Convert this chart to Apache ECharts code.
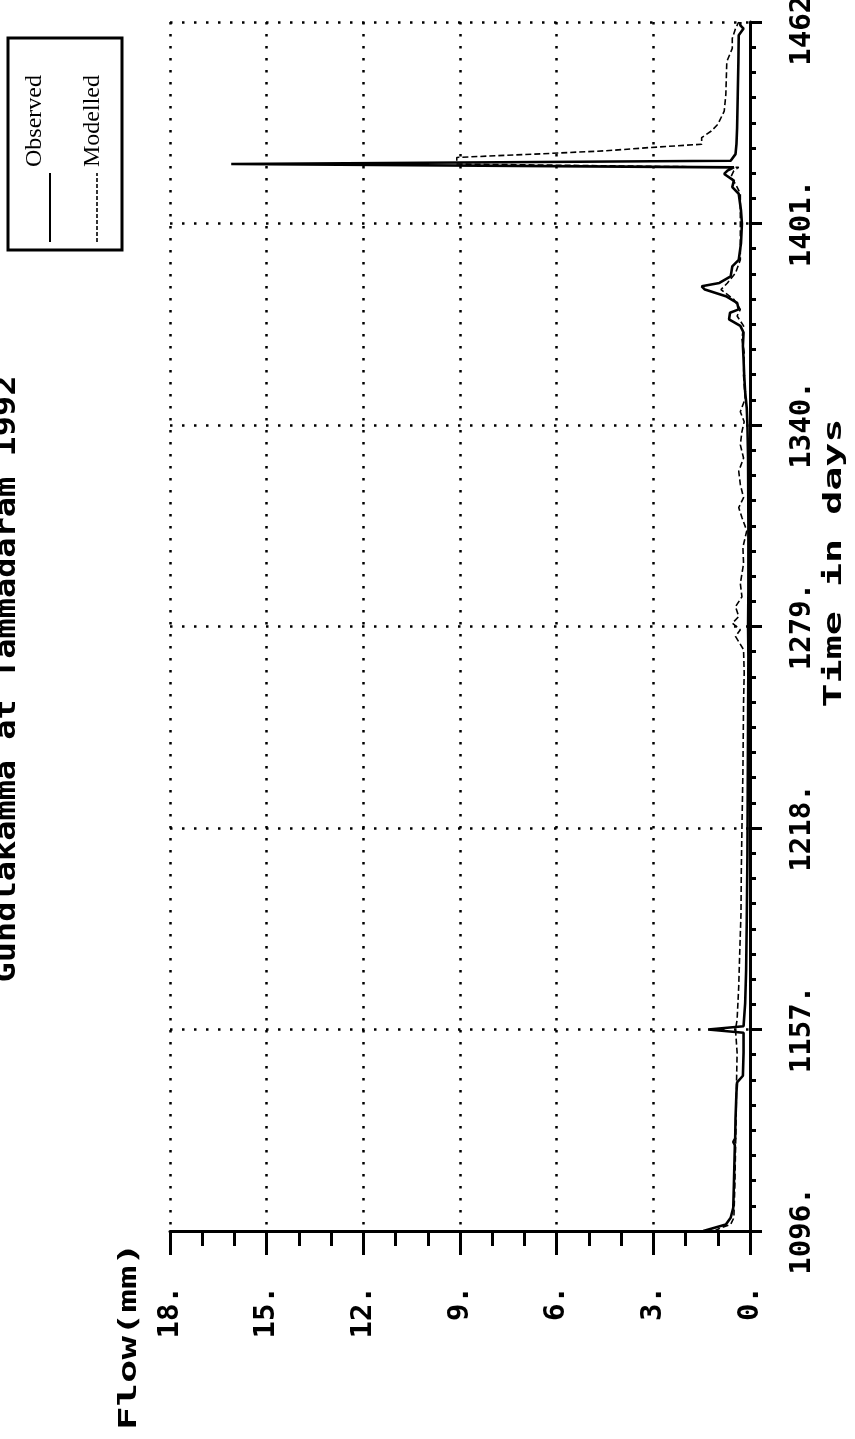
<!DOCTYPE html>
<html>
<head>
<meta charset="utf-8">
<script src="https://cdn.jsdelivr.net/npm/echarts@6/dist/echarts.min.js"></script>
<style>
  html, body { margin: 0; padding: 0; background: #fff; overflow: hidden; }
  #chart { width: 855px; height: 1439px; }
</style>
</head>
<body>
<div id="chart"></div>
<script>
// Daily flow, Gundlakamma at Tammadaram, 1992 (days counted from the series start)
const DAY0 = 1096;
const dayTicks = [1096, 1157, 1218, 1279, 1340, 1401, 1462];
const flowTicks = [0, 3, 6, 9, 12, 15, 18];

const observedDay = [1096,1097,1098,1100,1103,1110,1118,1122,1123,1124,1130,1138,1141,1143,1150,1156,1157,1158,1165,1175,1190,1210,1230,1250,1270,1279,1290,1310,1330,1340,1345,1350,1355,1360,1364,1368,1370,1372,1374,1375,1377,1379,1381,1382,1383,1385,1388,1390,1395,1401,1405,1410,1412,1414,1416,1417,1418,1419,1420,1422,1425,1430,1440,1450,1458,1460,1461,1462];
const observedFlow = [1.45,1.1,0.75,0.6,0.52,0.5,0.48,0.47,0.52,0.46,0.45,0.42,0.4,0.22,0.2,0.2,1.3,0.2,0.15,0.12,0.1,0.08,0.07,0.06,0.05,0.06,0.05,0.05,0.06,0.08,0.1,0.15,0.18,0.2,0.22,0.2,0.3,0.65,0.62,0.35,0.4,0.75,1.4,1.5,0.95,0.6,0.55,0.35,0.28,0.25,0.28,0.35,0.55,0.5,0.8,0.7,0.5,16.1,0.6,0.45,0.42,0.4,0.38,0.36,0.35,0.2,0.3,0.3];

const modelledDay = [1096,1097,1098,1100,1110,1120,1130,1140,1150,1157,1160,1170,1180,1192,1205,1218,1235,1256,1265,1272,1276,1278,1280,1282,1285,1288,1292,1298,1303,1308,1312,1315,1318,1322,1326,1330,1334,1338,1341,1344,1348,1355,1362,1366,1370,1373,1375,1378,1381,1383,1386,1390,1395,1401,1405,1410,1413,1415,1417,1418,1419,1420,1421,1422,1423,1424,1425,1427,1429,1431,1435,1440,1450,1454,1457,1460,1462];
const modelledFlow = [1.1,0.9,0.6,0.5,0.47,0.45,0.43,0.42,0.4,0.45,0.4,0.35,0.32,0.28,0.27,0.25,0.22,0.2,0.18,0.2,0.45,0.3,0.55,0.35,0.45,0.25,0.3,0.2,0.22,0.1,0.25,0.35,0.2,0.3,0.35,0.2,0.3,0.25,0.18,0.3,0.15,0.2,0.18,0.25,0.2,0.4,0.3,0.5,0.9,0.7,0.45,0.3,0.3,0.3,0.3,0.3,0.45,0.6,0.5,0.35,9.1,9.1,9.1,6.7,4.5,3.1,1.5,1.5,1.2,1.0,0.8,0.75,0.72,0.55,0.55,0.45,0.35];

const chartTitle = 'Gundlakamma at Tammadaram 1992';
const seriesNames = ['Observed', 'Modelled'];
const axisTitles = { flow: 'Flow(mm)', time: 'Time in days' };

// The plot is drawn turned a quarter turn: flow runs right-to-left, time runs upward.
const toPairs = (days, flows) => days.map((d, i) => [flows[i], d - DAY0]);

const MONO = '"DejaVu Sans Mono", "Liberation Mono", monospace';
const SERIF = '"Liberation Serif", "DejaVu Serif", serif';
const black = '#000';
const dotted = { color: black, width: 2.5, type: [2.5, 9.5] };

const chart = echarts.init(document.getElementById('chart'), null, { renderer: 'canvas' });

chart.setOption({
  animation: false,
  backgroundColor: '#fff',
  grid: { left: 170, right: 105, top: 22, bottom: 208, containLabel: false, outerBoundsMode: 'none' },
  xAxis: {
    type: 'value',
    inverse: true,
    position: 'bottom',
    min: flowTicks[0],
    max: flowTicks[flowTicks.length - 1],
    interval: flowTicks[1] - flowTicks[0],
    axisLine: { show: true, onZero: false, lineStyle: { color: black, width: 3 } },
    axisTick: { show: true, length: 24, lineStyle: { color: black, width: 3 } },
    minorTick: { show: true, splitNumber: 3, length: 15, lineStyle: { color: black, width: 3 } },
    splitLine: { show: true, lineStyle: dotted },
    axisLabel: {
      rotate: 90, margin: 55, color: black,
      fontFamily: MONO, fontWeight: 'bold', fontSize: 29,
      formatter: v => v + '.'
    }
  },
  yAxis: {
    type: 'value',
    position: 'right',
    min: 0,
    max: dayTicks[dayTicks.length - 1] - DAY0,
    interval: dayTicks[1] - dayTicks[0],
    axisLine: { show: true, onZero: false, lineStyle: { color: black, width: 3 } },
    axisTick: { show: true, length: 12, lineStyle: { color: black, width: 3 } },
    minorTick: { show: true, splitNumber: 8, length: 6, lineStyle: { color: black, width: 3 } },
    splitLine: { show: true, lineStyle: dotted },
    axisLabel: {
      rotate: 90, margin: 38, color: black,
      fontFamily: MONO, fontWeight: 'bold', fontSize: 29,
      formatter: v => (v + DAY0) + '.'
    }
  },
  series: [
    {
      name: seriesNames[0], type: 'line', symbol: 'none', z: 4,
      data: toPairs(observedDay, observedFlow),
      lineStyle: { color: black, width: 2.6 }
    },
    {
      name: seriesNames[1], type: 'line', symbol: 'none', z: 3,
      data: toPairs(modelledDay, modelledFlow),
      lineStyle: { color: black, width: 1.6, type: [6, 3] }
    }
  ],
  graphic: [{
    // Upright layout frame (1439 x 855) turned onto the page
    type: 'group', x: 0, y: 1439, rotation: Math.PI / 2,
    children: [
      // page title, running along the trimmed top edge of the sheet
      { type: 'text', x: 760, y: 8, scaleX: 1.2,
        style: { text: chartTitle, font: 'bold 28px ' + MONO, fill: black, align: 'center', verticalAlign: 'middle' } },
      { type: 'rect', shape: { x: 1189, y: 8, width: 212, height: 114 },
        style: { fill: '#fff', stroke: black, lineWidth: 3 } },
      { type: 'line', shape: { x1: 1197, y1: 50, x2: 1266, y2: 50 },
        style: { stroke: black, lineWidth: 2 } },
      { type: 'text', x: 1272, y: 35,
        style: { text: seriesNames[0], font: '24px ' + SERIF, fill: black, align: 'left', verticalAlign: 'middle' } },
      { type: 'line', shape: { x1: 1197, y1: 97, x2: 1266, y2: 97 },
        style: { stroke: black, lineWidth: 1.6, lineDash: [4, 2] } },
      { type: 'text', x: 1272, y: 93,
        style: { text: seriesNames[1], font: '24px ' + SERIF, fill: black, align: 'left', verticalAlign: 'middle' } },
      { type: 'text', x: 9, y: 129, scaleX: 1.56,
        style: { text: axisTitles.flow, font: 'bold 25px ' + MONO, fill: black, align: 'left', verticalAlign: 'middle' } },
      { type: 'text', x: 876, y: 834, scaleX: 1.6,
        style: { text: axisTitles.time, font: 'bold 25px ' + MONO, fill: black, align: 'center', verticalAlign: 'middle' } }
    ]
  }]
});
</script>
</body>
</html>
